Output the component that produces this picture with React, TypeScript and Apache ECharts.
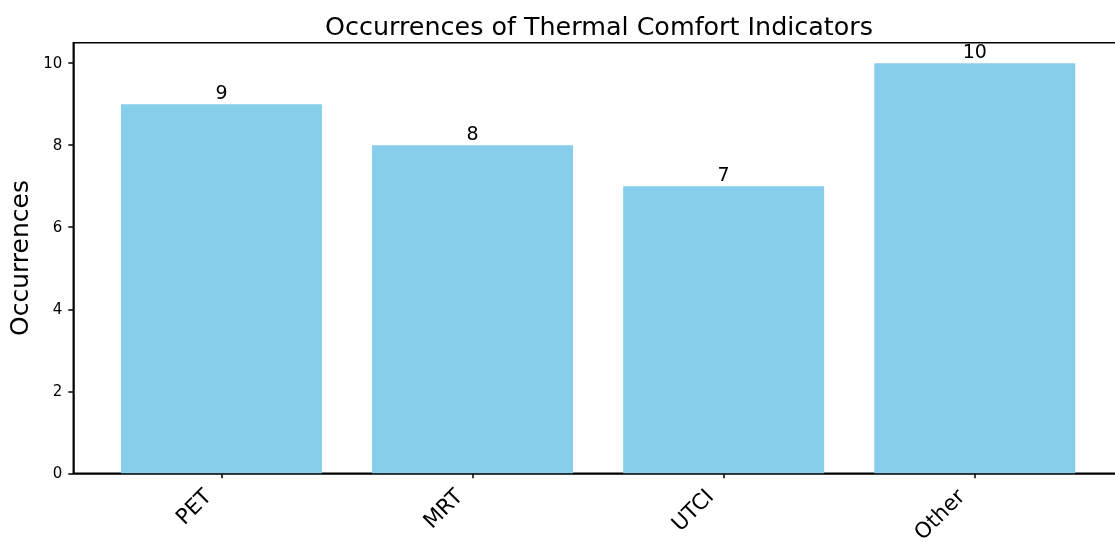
import React, { useEffect, useRef } from "react";
import * as echarts from "echarts";

const categories = ["PET", "MRT", "UTCI", "Other"];
const occurrences = [9, 8, 7, 10];
const yTicks = [0, 2, 4, 6, 8, 10];

export default function App() {
  const ref = useRef<HTMLDivElement>(null);
  useEffect(() => {
    const chart = echarts.init(ref.current!, null, { renderer: "svg" });
    const font = "DejaVu Sans";
    chart.setOption({
      animation: false,
      textStyle: { fontFamily: font },
      title: {
        text: "Occurrences of Thermal Comfort Indicators",
        left: 594,
        top: 8,
        textAlign: "center",
        textStyle: { fontFamily: font, fontSize: 25.4, fontWeight: "normal", color: "#000" },
      },
      grid: {
        left: 73.3,
        top: 42.7,
        width: 1049.6,
        height: 430.6,
        outerBoundsMode: "none",
        containLabel: false,
        show: true,
        borderColor: "#000",
        borderWidth: 1.5,
        backgroundColor: "transparent",
      },
      xAxis: {
        type: "value",
        min: -0.59,
        max: 3.59,
        splitLine: { show: false },
        axisLine: { show: true, onZero: false, lineStyle: { color: "#000", width: 1.5 } },
        axisTick: { show: true, length: 5, lineStyle: { color: "#000", width: 1.5 }, customValues: categories.map((_, i) => i) },
        axisLabel: {
          customValues: categories.map((_, i) => i),
          formatter: (v: number) => categories[Math.round(v)] ?? "",
          rotate: 45,
          margin: 5,
          padding: [0, 20, 0, 0],
          fontSize: 21.5,
          color: "#000",
          fontFamily: font,
        },
      },
      yAxis: {
        type: "value",
        min: 0,
        max: 10.5,
        name: "Occurrences",
        nameLocation: "middle",
        nameGap: 40,
        nameTextStyle: { fontFamily: font, fontSize: 25, color: "#000" },
        splitLine: { show: false },
        axisLine: { show: true, onZero: false, lineStyle: { color: "#000", width: 1.5 } },
        axisTick: { show: true, length: 5, lineStyle: { color: "#000", width: 1.5 }, customValues: yTicks },
        axisLabel: { customValues: yTicks, margin: 11, fontSize: 15, color: "#000", fontFamily: font },
      },
      series: [
        {
          type: "bar",
          barWidth: 201,
          data: occurrences.map((v, i) => [i, v]),
          itemStyle: { color: "#87CEEB" },
          label: {
            show: true,
            position: "top",
            distance: 3,
            fontSize: 19,
            color: "#000",
            fontFamily: font,
            formatter: (p: any) => String(p.value[1]),
          },
        },
      ],
    });
    return () => chart.dispose();
  }, []);
  return (
    <div style={{ position: "fixed", left: 0, top: 0, width: 1115, height: 547, overflow: "hidden" }}>
      <div ref={ref} style={{ width: 1130, height: 547 }} />
    </div>
  );
}
